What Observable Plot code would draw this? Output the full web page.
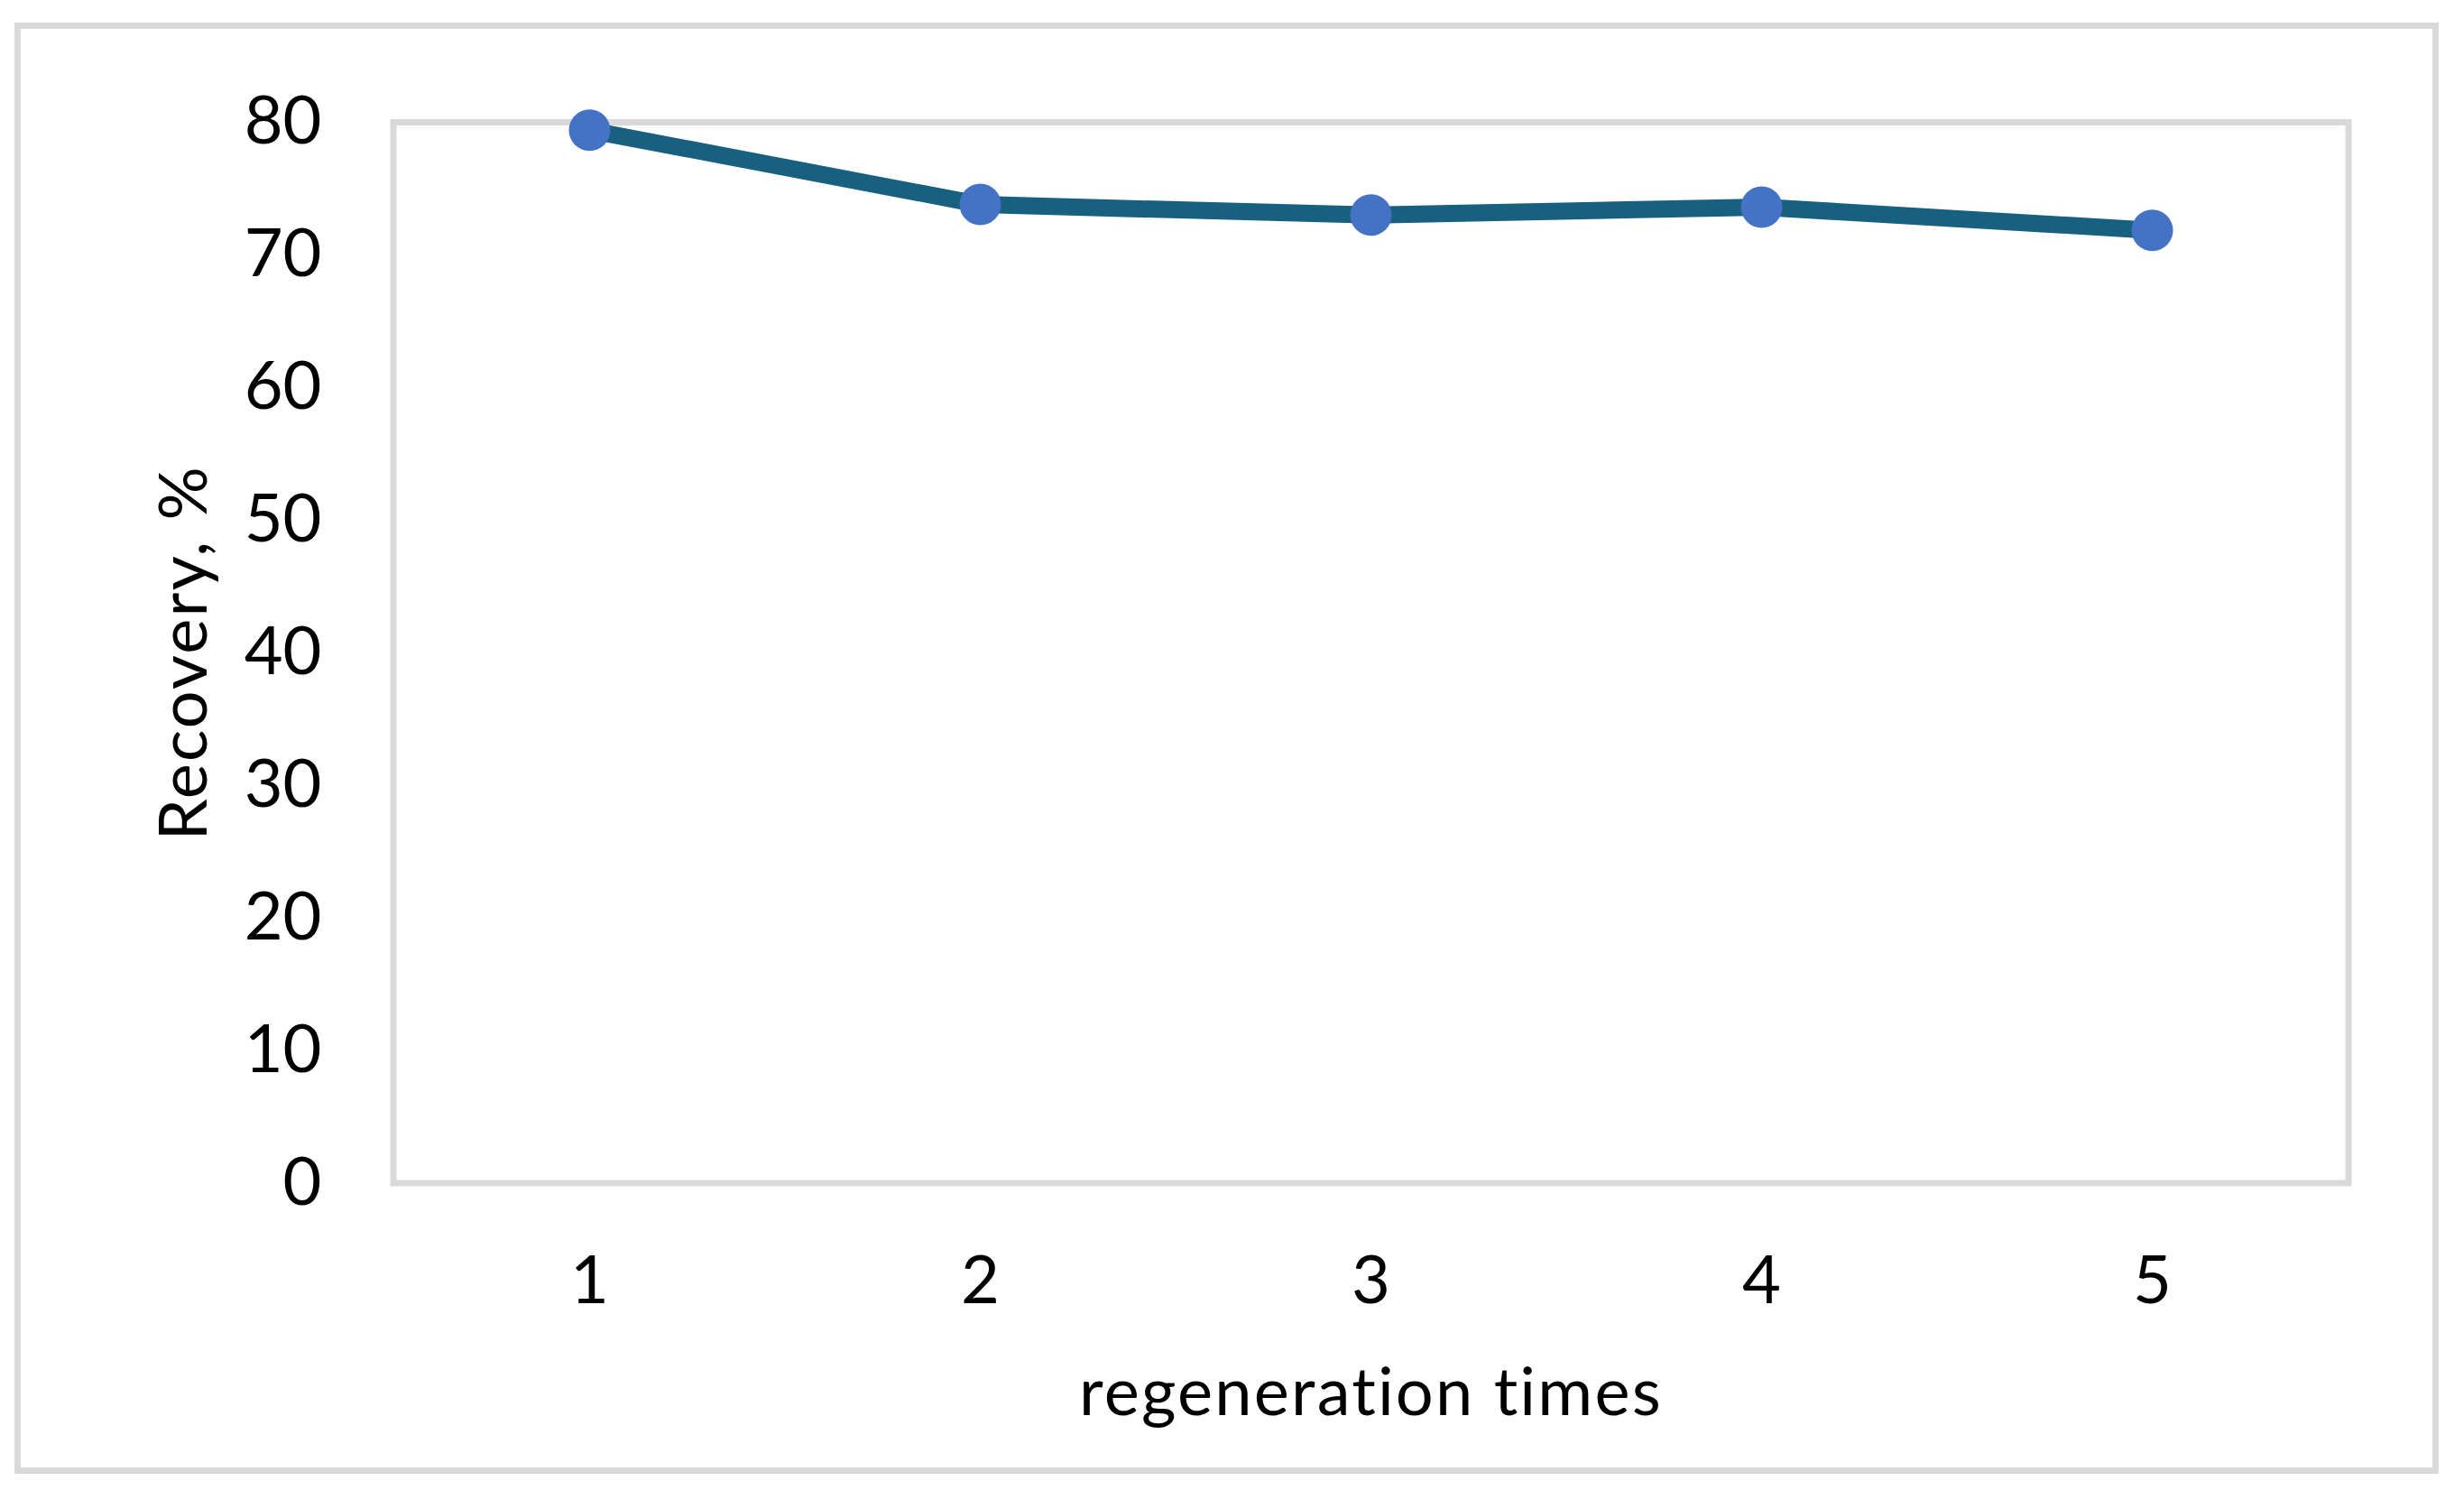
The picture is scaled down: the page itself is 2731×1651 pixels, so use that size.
<!DOCTYPE html>
<html><head><meta charset="utf-8">
<script src="https://cdn.jsdelivr.net/npm/d3@7"></script>
<script src="https://cdn.jsdelivr.net/npm/@observablehq/plot@0.6"></script>
<style>
html,body{margin:0;padding:0;background:#fff;}
#wrap{position:relative;width:2731px;height:1651px;overflow:hidden;}
#wrap svg{display:block;position:absolute;left:0;top:0;}
#border{position:absolute;left:16px;top:25px;width:2687px;height:1608px;box-sizing:border-box;border:7px solid #D9D9D9;pointer-events:none;}
</style></head><body>
<div id="wrap"></div>
<script>
const cycles = [1, 2, 3, 4, 5];
const recovery = [79.4, 73.8, 73.0, 73.6, 71.85];
const yTicks = [0, 10, 20, 30, 40, 50, 60, 70, 80];
const xLabel = "regeneration times";
const yLabel = "Recovery, %";

const data = cycles.map((c, i) => ({cycle: c, recovery: recovery[i]}));

const chart = Plot.plot({
  width: 2731, height: 1651,
  marginLeft: 435.5, marginRight: 128.5, marginTop: 135, marginBottom: 340.5,
  style: {fontFamily: "Lato", fontSize: "74px", color: "#000", background: "transparent"},
  x: {type: "point", domain: cycles, padding: 0.5},
  y: {domain: [0, 80]},
  marks: [
    Plot.frame({stroke: "#D9D9D9", strokeWidth: 7}),
    Plot.axisY({ticks: yTicks, tickSize: 0, tickPadding: 79.5, label: null, fontSize: 74}),
    Plot.axisX({tickSize: 0, tickPadding: 80.5, label: null, fontSize: 74}),
    Plot.line(data, {x: "cycle", y: "recovery", stroke: "#17607F", strokeWidth: 19, strokeLinejoin: "round"}),
    Plot.dot(data, {x: "cycle", y: "recovery", r: 23, fill: "#4472C4", stroke: "none"}),
    Plot.text([xLabel], {frameAnchor: "bottom", dy: 233.5, lineAnchor: "middle", textAnchor: "middle", text: d => d, fontSize: 74}),
    Plot.text([yLabel], {frameAnchor: "left", dx: -230.5, dy: 0, rotate: -90, lineAnchor: "middle", textAnchor: "middle", text: d => d, fontSize: 74})
  ]
});
// slightly wider letter spacing on the axis titles to match the original's font width
d3.select(chart).selectAll("text")
  .filter(function () { const t = this.textContent; return t === xLabel || t === yLabel; })
  .attr("letter-spacing", "2.2px");
const wrap = document.getElementById("wrap");
wrap.appendChild(chart);
const b = document.createElement("div");
b.id = "border";
wrap.appendChild(b);
</script>
</body></html>
